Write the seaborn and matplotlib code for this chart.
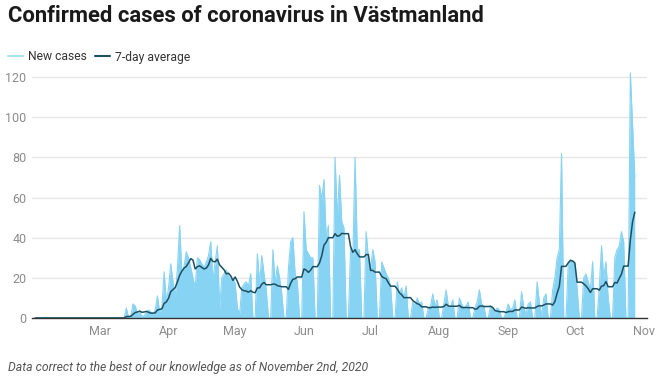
import pandas as pd
import numpy as np
import matplotlib
matplotlib.use("Agg")
import matplotlib.pyplot as plt
from matplotlib.lines import Line2D
import seaborn as sns

# daily new cases, Feb 1 2020 onward
feb = [0] * 29
mar = [0] * 12 + [5, 0, 1, 7, 6, 2, 3, 1, 1, 3, 4, 3, 2, 4, 11, 3, 5, 23, 8]
apr = [15, 27, 18, 10, 25, 46, 22, 26, 33, 30, 25, 20, 15, 30, 29,
       27, 25, 28, 31, 38, 19, 28, 36, 5, 20, 22, 24, 21, 19, 20]
may = [17, 5, 2, 15, 17, 18, 16, 22, 0, 0, 32, 17, 31, 22, 14, 0,
       0, 34, 17, 26, 20, 12, 0, 0, 25, 38, 40, 22, 18, 0, 0]
jun = [53, 34, 32, 30, 30, 0, 0, 66, 59, 69, 40, 46, 0, 0, 80,
       50, 71, 48, 45, 0, 0, 35, 30, 80, 34, 34, 0, 0, 43, 30]
jul = [25, 34, 28, 0, 0, 28, 25, 22, 20, 16, 0, 0, 18, 12, 15, 10,
       16, 0, 0, 8, 6, 10, 7, 8, 0, 0, 5, 6, 12, 6, 9]
aug = [0, 0, 7, 14, 6, 5, 9, 0, 0, 10, 7, 5, 6, 8, 0, 0, 5, 8, 14,
       7, 6, 0, 0, 6, 4, 3, 5, 4, 0, 0, 3]
sep = [7, 4, 5, 9, 0, 0, 13, 5, 2, 7, 8, 0, 0, 18, 8, 1, 10, 12, 0,
       0, 14, 20, 30, 34, 82, 0, 0, 26, 29, 28]
octo = [27, 15, 0, 0, 20, 22, 18, 14, 28, 0, 0, 15, 36, 20, 28, 10,
        0, 0, 30, 34, 36, 43, 38, 0, 0, 122, 96, 70]

new_cases = feb + mar + apr + may + jun + jul + aug + sep + octo
dates = pd.date_range("2020-02-01", periods=len(new_cases), freq="D")

df = pd.DataFrame({"date": dates, "new": new_cases})
df["avg"] = df["new"].rolling(7, min_periods=1).mean()

month_ticks = pd.date_range("2020-03-01", "2020-11-01", freq="MS")
month_labels = ["Mar", "Apr", "May", "Jun", "Jul", "Aug", "Sep", "Oct", "Nov"]
y_ticks = [0, 20, 40, 60, 80, 100, 120]

fill_col = "#87d3f3"
avg_col = "#1d4f63"

sns.set_theme(style="white")
plt.rcParams["font.family"] = ["Roboto", "DejaVu Sans"]

fig = plt.figure(figsize=(6.6, 3.8), dpi=100)
ax = fig.add_axes([32 / 660, 1 - 318 / 380, 615 / 660, (318 - 67) / 380])

ax.fill_between(df["date"], 0, df["new"], color=fill_col, lw=0)
sns.lineplot(data=df, x="date", y="new", ax=ax, color=fill_col, lw=0.8)
sns.lineplot(data=df, x="date", y="avg", ax=ax, color=avg_col, lw=1.1)

ax.set_xlim(pd.Timestamp("2020-01-30 12:00"), pd.Timestamp("2020-11-02 12:00"))
ax.set_ylim(0, 125)
ax.set_yticks(y_ticks)
ax.set_xticks(month_ticks)
ax.set_xticklabels(month_labels)
ax.set_xlabel("")
ax.set_ylabel("")
ax.grid(axis="y", color="#e6e6e6", lw=1)
ax.set_axisbelow(True)
for s in ["top", "right", "left"]:
    ax.spines[s].set_visible(False)
ax.spines["bottom"].set_color("#333333")
ax.spines["bottom"].set_linewidth(1)
ax.tick_params(axis="both", length=0, labelsize=9, colors="#8c8c8c")
ax.tick_params(axis="y", pad=4)
ax.tick_params(axis="x", pad=5)

fig.text(8 / 660, 1 - 22.5 / 380, "Confirmed cases of coronavirus in Västmanland",
         fontsize=15.8, fontweight="bold", color="#1a1a1a", va="baseline")

handles = [Line2D([], [], color="#a9e0f2", lw=1.5),
           Line2D([], [], color=avg_col, lw=1.5)]
fig.legend(handles, ["New cases", "7-day average"], loc="center left",
           bbox_to_anchor=(8 / 660, 1 - 57 / 380), ncol=2, frameon=False,
           fontsize=8.7, handlelength=1.2, handletextpad=0.45, columnspacing=0.7,
           borderpad=0, borderaxespad=0, labelcolor="#333333")

fig.text(8 / 660, 1 - 368 / 380,
         "Data correct to the best of our knowledge as of November 2nd, 2020",
         fontsize=8.8, style="italic", color="#555555", va="center")

fig.savefig("out.png", dpi=100)
